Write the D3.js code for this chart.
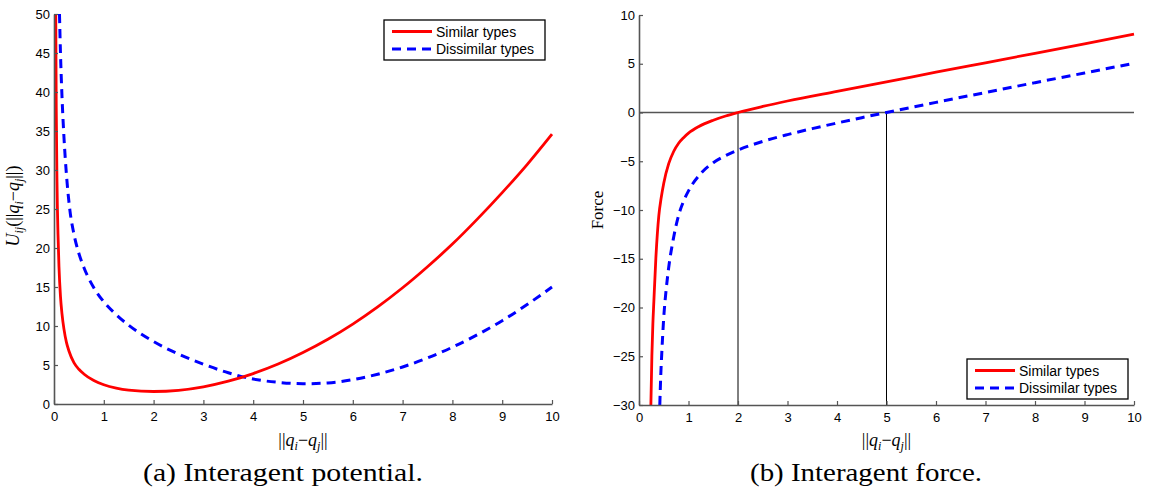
<!DOCTYPE html>
<html>
<head>
<meta charset="utf-8">
<script src="https://cdn.jsdelivr.net/npm/d3@7"></script>
<style>
  body { margin: 0; background: #fff; }
  svg text { font-family: "Liberation Sans", Arial, Helvetica, sans-serif; }
  svg text.serif { font-family: "Liberation Serif", "Times New Roman", Times, serif; }
</style>
</head>
<body>
<svg id="chart" width="1153" height="496"></svg>
<script>
// values: [distance, value]
var potSimilar = [
  [0.035, 50], [0.045, 38], [0.06, 28.5], [0.08, 21.8], [0.1, 17.6], [0.13, 13.8],
  [0.16, 11.6], [0.2, 9.6], [0.25, 7.9], [0.3, 6.8], [0.4, 5.3], [0.5, 4.45],
  [0.6, 3.85], [0.8, 3.0], [1, 2.47], [1.25, 2.04], [1.5, 1.78], [2, 1.6],
  [2.5, 1.75], [3, 2.2], [3.5, 2.92], [4, 3.9], [4.5, 5.12], [5, 6.6],
  [5.5, 8.3], [6, 10.25], [6.5, 12.45], [7, 14.9], [7.5, 17.6], [8, 20.5],
  [8.5, 23.7], [9, 27.1], [9.5, 30.7], [10, 34.6]
];
var potDissimilar = [
  [0.11, 50], [0.13, 45], [0.16, 39.5], [0.2, 34.2], [0.25, 29.4], [0.32, 24.8],
  [0.4, 21.8], [0.5, 19.3], [0.6, 17.5], [0.8, 14.9], [1, 13.1], [1.25, 11.45],
  [1.5, 10.1], [2, 8.0], [2.5, 6.4], [3, 5.1], [3.5, 4.0], [4, 3.2],
  [4.5, 2.78], [5, 2.6], [5.5, 2.7], [6, 3.12], [6.5, 3.82], [7, 4.75],
  [7.5, 5.9], [8, 7.28], [8.5, 8.88], [9, 10.68], [9.5, 12.75], [10, 15]
];
var forceSimilar = [
  [0.24, -30], [0.26, -25], [0.28, -21.7], [0.3, -19.4], [0.34, -15], [0.4, -10.6],
  [0.45, -8.7], [0.5, -7.25], [0.6, -5.25], [0.7, -4.0], [0.8, -3.15], [0.9, -2.58],
  [1, -2.12], [1.2, -1.46], [1.5, -0.79], [1.75, -0.36], [2, 0], [2.5, 0.62],
  [3, 1.18], [4, 2.17], [5, 3.14], [6, 4.13], [7, 5.1], [8, 6.07], [9, 7.05], [10, 8.05]
];
var forceDissimilar = [
  [0.42, -30], [0.44, -26.9], [0.46, -24.7], [0.5, -21], [0.55, -18.1], [0.6, -15.9],
  [0.7, -12.8], [0.8, -10.55], [0.9, -9.1], [1, -8.04], [1.25, -6.25], [1.5, -5.15],
  [1.75, -4.42], [2, -3.85], [2.5, -2.97], [3, -2.27], [3.5, -1.65], [4, -1.08],
  [4.5, -0.53], [5, 0], [6, 1.04], [7, 2.05], [8, 3.06], [9, 4.05], [10, 5.05]
];
var equilibria = [2, 5];
var seriesNames = ["Similar types", "Dissimilar types"];
var xTicks = d3.range(0, 11, 1);
var potTicks = d3.range(0, 55, 5);
var forceTicks = d3.range(-30, 15, 5);

var svg = d3.select("#chart");

function mathNorm(t) {
  t.append("tspan").text("||");
  t.append("tspan").style("font-style", "italic").text("q");
  t.append("tspan").style("font-style", "italic").style("font-size", "12px").attr("dy", 4).text("i");
  t.append("tspan").attr("dy", -4).text("−");
  t.append("tspan").style("font-style", "italic").text("q");
  t.append("tspan").style("font-style", "italic").style("font-size", "12px").attr("dy", 4).text("j");
  t.append("tspan").attr("dy", -4).text("||");
}

function panel(o) {
  var x = d3.scaleLinear().domain([0, 10]).range([o.left, o.right]);
  var y = d3.scaleLinear().domain(o.yDomain).range([o.bottom, o.top]);
  var g = svg.append("g");

  g.append("clipPath").attr("id", o.id)
    .append("rect")
      .attr("x", o.left).attr("y", o.top - 1)
      .attr("width", o.right - o.left + 2).attr("height", o.bottom - o.top + 1);

  // zero line and the two equilibrium distances (force panel)
  if (o.guides) {
    g.append("line")
      .attr("x1", x(0)).attr("x2", x(10))
      .attr("y1", y(0)).attr("y2", y(0))
      .attr("stroke", "#555").attr("stroke-width", 1.3);
    g.selectAll(".vguide")
      .data(equilibria)
      .enter().append("line")
        .attr("x1", function(d) { return x(d); })
        .attr("x2", function(d) { return x(d); })
        .attr("y1", y(0)).attr("y2", o.bottom)
        .attr("stroke", "#000").attr("stroke-width", 1);
  }

  var line = d3.line()
    .x(function(d) { return x(d[0]); })
    .y(function(d) { return y(d[1]); })
    .curve(d3.curveMonotoneX);

  g.append("path").datum(o.series[1])
    .attr("clip-path", "url(#" + o.id + ")")
    .attr("d", line).attr("fill", "none")
    .attr("stroke", "#0000ff").attr("stroke-width", 3)
    .attr("stroke-dasharray", "9,6");
  g.append("path").datum(o.series[0])
    .attr("clip-path", "url(#" + o.id + ")")
    .attr("d", line).attr("fill", "none")
    .attr("stroke", "#ff0000").attr("stroke-width", 2.8);

  var xAxis = g.append("g")
    .attr("transform", "translate(0," + o.bottom + ")")
    .call(d3.axisBottom(x).tickValues(xTicks).tickSizeInner(-4).tickSizeOuter(0).tickPadding(8));
  var yAxis = g.append("g")
    .attr("transform", "translate(" + o.left + ",0)")
    .call(d3.axisLeft(y).tickValues(o.yTicks).tickSizeInner(-4).tickSizeOuter(0).tickPadding(4));

  [xAxis, yAxis].forEach(function(a) {
    a.attr("font-family", null);
    a.select(".domain").attr("stroke", "#555").attr("stroke-width", 1.6);
    a.selectAll(".tick line").attr("stroke", "#555").attr("stroke-width", 1.2);
    a.selectAll(".tick text").attr("fill", "#000").style("font-size", "13px");
  });

  // x label ||q_i - q_j||
  var xl = g.append("text").attr("class", "serif")
    .attr("x", (o.left + o.right) / 2).attr("y", 446)
    .attr("text-anchor", "middle").style("font-size", "18px");
  mathNorm(xl);

  // legend
  var lg = g.append("g").attr("transform", "translate(" + o.legend[0] + "," + o.legend[1] + ")");
  lg.append("rect").attr("width", 161).attr("height", 40)
    .attr("fill", "#fff").attr("stroke", "#000").attr("stroke-width", 1.3);
  lg.selectAll(".item")
    .data(seriesNames)
    .enter().append("g")
      .attr("transform", function(d, i) { return "translate(0," + (11.5 + i * 17.5) + ")"; })
      .each(function(d, i) {
        var it = d3.select(this);
        it.append("line").attr("x1", 8).attr("x2", 48)
          .attr("stroke", i ? "#0000ff" : "#ff0000")
          .attr("stroke-width", i ? 3 : 2.8)
          .attr("stroke-dasharray", i ? "9,6" : null);
        it.append("text").attr("x", 52).attr("dy", "0.36em")
          .style("font-size", "14px").text(d);
      });

  // caption
  g.append("text").attr("class", "serif")
    .attr("x", o.caption[0]).attr("y", 481)
    .attr("textLength", o.caption[1]).attr("lengthAdjust", "spacingAndGlyphs")
    .style("font-size", "26px").text(o.caption[2]);

  return g;
}

panel({
  id: "clipA", left: 54, right: 552, top: 14, bottom: 404,
  yDomain: [0, 50], yTicks: potTicks,
  series: [potSimilar, potDissimilar],
  legend: [384, 20], caption: [143, 280, "(a) Interagent potential."]
});
panel({
  id: "clipB", left: 639, right: 1134, top: 15, bottom: 405,
  yDomain: [-30, 10], yTicks: forceTicks,
  series: [forceSimilar, forceDissimilar], guides: true,
  legend: [967, 359], caption: [750, 232, "(b) Interagent force."]
});

// y labels
var yl = svg.append("text").attr("class", "serif")
  .attr("transform", "translate(19,206) rotate(-90)")
  .attr("text-anchor", "middle").style("font-size", "18px");
yl.append("tspan").style("font-style", "italic").text("U");
yl.append("tspan").style("font-style", "italic").style("font-size", "12px").attr("dy", 4).text("ij");
yl.append("tspan").attr("dy", -4).text("(");
mathNorm(yl);
yl.append("tspan").text(")");

svg.append("text").attr("class", "serif")
  .attr("transform", "translate(603,210) rotate(-90)")
  .attr("text-anchor", "middle").style("font-size", "17px").text("Force");
</script>
</body>
</html>
